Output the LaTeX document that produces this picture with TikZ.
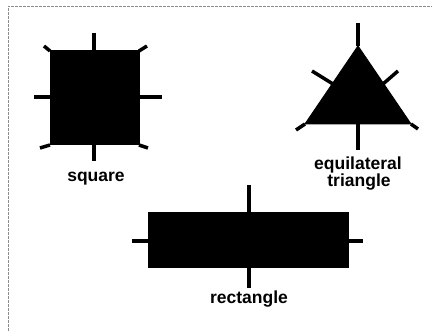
\documentclass[tikz,border=0pt]{standalone}
\usepackage{fontspec}
\setmainfont{Liberation Sans}
\begin{document}
\begin{tikzpicture}[x=1pt,y=-1pt,
  shapefill/.style={fill=black,draw=black,line width=1pt,line join=miter},
  axis/.style={draw=black,line width=4pt},
  tick/.style={draw=black,line width=3.5pt},
  lbl/.style={font=\bfseries\fontsize{17.5}{18}\selectfont,inner sep=0pt,align=center},
  frameline/.style={draw=black!45,line width=0.8pt,dash pattern=on 3pt off 1pt}]
\useasboundingbox (0,0) rectangle (432,331);
% frame (top and left only)
\draw[frameline] (8,331) -- (8,6) -- (432,6);
% square
\coordinate (sqTL) at (50,51);
\coordinate (sqTR) at (139,51);
\coordinate (sqBR) at (139,145);
\coordinate (sqBL) at (50,145);
\fill[shapefill] (sqTL) -- (sqTR) -- (sqBR) -- (sqBL) -- cycle;
\coordinate (sqT) at (94,33); \coordinate (sqB) at (94,161);
\coordinate (sqL) at (34,97); \coordinate (sqR) at (162,97);
\draw[axis] (sqT) -- (sqB);
\draw[axis] (sqL) -- (sqR);
\coordinate (sqTLo) at (44,46); \coordinate (sqTRo) at (147,46);
\coordinate (sqBRo) at (148,148); \coordinate (sqBLo) at (40,148);
\draw[tick] (sqTL) -- (sqTLo);
\draw[tick] (sqTR) -- (sqTRo);
\draw[tick] (sqBR) -- (sqBRo);
\draw[tick] (sqBL) -- (sqBLo);
\node[lbl] (sqlabel) at (96,179) {square};
% triangle
\coordinate (trA) at (358,46);
\coordinate (trL) at (305,124);
\coordinate (trR) at (411,124);
\fill[shapefill] (trA) -- (trR) -- (trL) -- cycle;
\coordinate (trAo) at (358,23);
\coordinate (trBo) at (358,150);
\coordinate (trBm) at (358,122);
\coordinate (trLm) at (333,84); \coordinate (trLo) at (312,71);
\coordinate (trRm) at (383,84); \coordinate (trRo) at (398,71);
\coordinate (trLco) at (296,130); \coordinate (trRco) at (418,129);
\draw[axis] (trAo) -- (trA);
\draw[axis] (trBm) -- (trBo);
\draw[tick] (trLm) -- (trLo);
\draw[tick] (trRm) -- (trRo);
\draw[tick] (trL) -- (trLco);
\draw[tick] (trR) -- (trRco);
\node[lbl] (trlabel1) at (358,165) {equilateral};
\node[lbl] (trlabel2) at (359,182) {triangle};
% rectangle
\fill[shapefill] (148,213) rectangle (348,268);
\coordinate (reT) at (249,185); \coordinate (reB) at (249,288);
\coordinate (reL) at (132,241); \coordinate (reR) at (363,241);
\draw[axis] (reT) -- (reB);
\draw[axis] (reL) -- (reR);
\node[lbl] (relabel) at (249,299) {rectangle};
\end{tikzpicture}
\end{document}
